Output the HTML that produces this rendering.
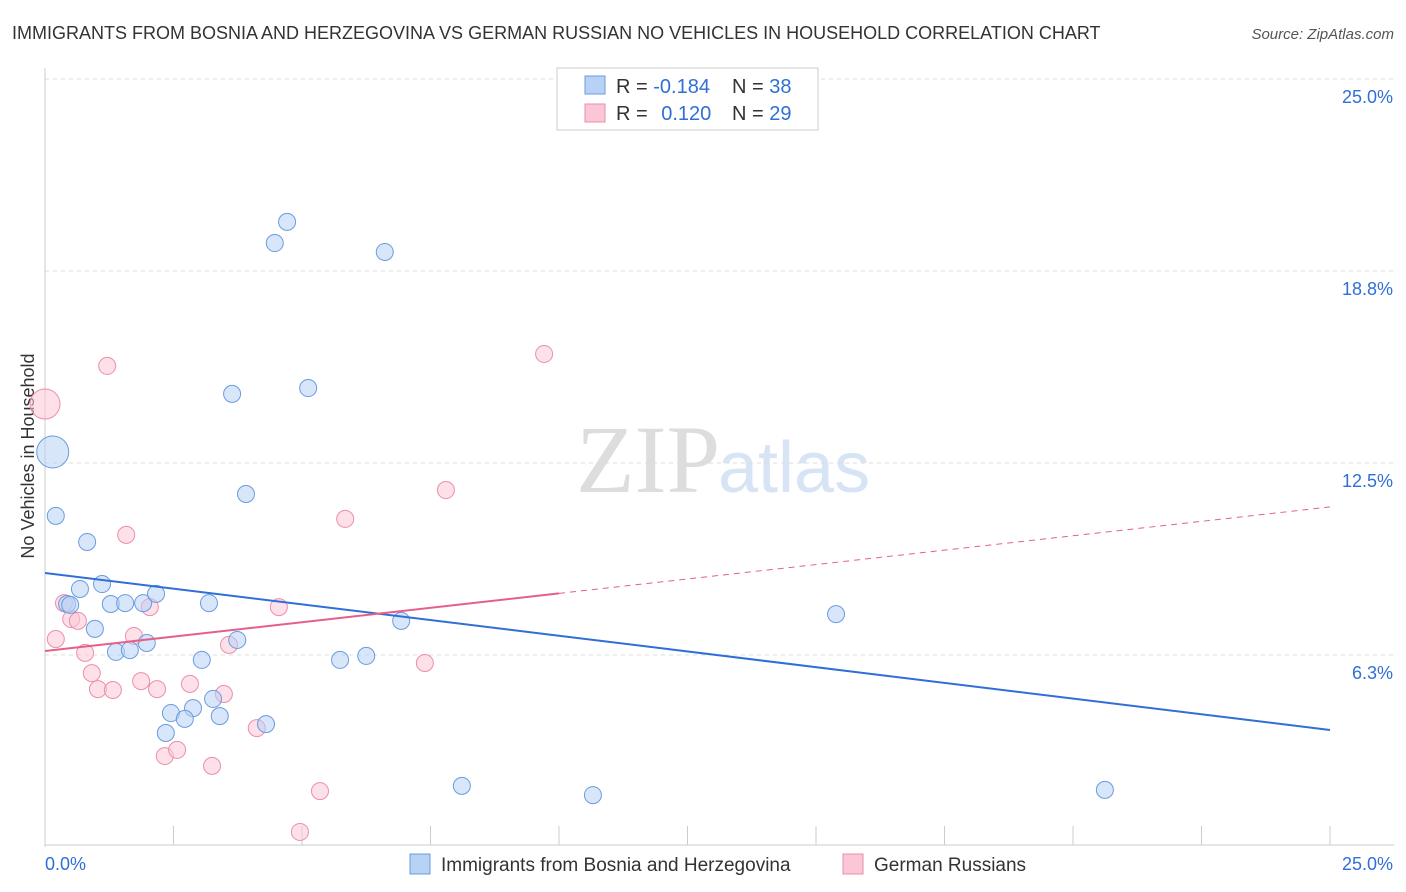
<!DOCTYPE html>
<html><head><meta charset="utf-8"><style>
body{margin:0;background:#fff;font-family:"Liberation Sans",sans-serif;}
#wrap{position:relative;width:1406px;height:892px;overflow:hidden}
svg text{font-family:"Liberation Sans",sans-serif}
</style></head><body>
<div id="wrap">
<svg id="c" width="1406" height="892">
<text x="12" y="39" font-size="18" fill="#333">IMMIGRANTS FROM BOSNIA AND HERZEGOVINA VS GERMAN RUSSIAN NO VEHICLES IN HOUSEHOLD CORRELATION CHART</text>
<text x="1394" y="39" font-size="15" fill="#555" font-style="italic" text-anchor="end">Source: ZipAtlas.com</text>
<text x="0" y="0" transform="translate(34,456) rotate(-90)" font-size="18" fill="#333" text-anchor="middle">No Vehicles in Household</text>
<text x="720" y="492" font-size="96" fill="#ddd" text-anchor="end" font-family="Liberation Serif" style="font-family:'Liberation Serif',serif">ZIP</text>
<text x="718" y="492" font-size="72" fill="#d6e4f5">atlas</text>
<g id="grid"></g><g id="pts"></g><g id="lines"></g>
<g>
<rect x="557" y="68" width="261" height="62" fill="#fff" stroke="#ccc"/>
<rect x="585" y="76" width="20" height="18" fill="#b8d2f5" stroke="#6a9be0"/>
<rect x="585" y="104" width="20" height="18" fill="#fbc6d6" stroke="#eb8fab"/>
<text x="616" y="93" font-size="20" fill="#333">R = <tspan fill="#2f6fd6">-0.184</tspan></text>
<text x="732" y="93" font-size="20" fill="#333">N = <tspan fill="#2f6fd6">38</tspan></text>
<text x="616" y="120" font-size="20" fill="#333">R = <tspan fill="#2f6fd6" dx="8">0.120</tspan></text>
<text x="732" y="120" font-size="20" fill="#333">N = <tspan fill="#2f6fd6">29</tspan></text>
</g>
<g>
<rect x="410" y="854" width="20" height="20" fill="#b8d2f5" stroke="#6a9be0"/>
<text x="441" y="871" font-size="19" fill="#333">Immigrants from Bosnia and Herzegovina</text>
<rect x="843" y="854" width="20" height="20" fill="#fbc6d6" stroke="#eb8fab"/>
<text x="874" y="871" font-size="19" fill="#333">German Russians</text>
</g>
</svg></div>
<script>
const yTicks=[6.25,12.5,18.75,25];
const yTickLabels=["6.3%","12.5%","18.8%","25.0%"];
const xTickLabels=["0.0%","25.0%"];
const blueX=[0.15,0.21,0.82,1.11,0.68,0.43,0.49,1.28,1.56,1.91,2.16,0.97,1.38,1.65,1.98,3.19,3.74,3.05,3.27,2.88,2.45,2.72,3.40,2.35,4.30,3.64,3.91,4.47,4.71,5.12,6.61,6.93,5.74,6.25,8.11,10.66,15.39,20.62];
const blueY=[12.86,10.78,9.93,8.56,8.40,7.91,7.88,7.91,7.94,7.94,8.24,7.10,6.35,6.41,6.64,7.94,6.74,6.09,4.82,4.52,4.36,4.17,4.26,3.71,4.00,14.75,11.49,19.66,20.35,14.94,19.37,7.36,6.09,6.22,1.99,1.69,7.58,1.86];
const pinkX=[0,0.21,0.37,0.51,0.64,0.78,0.91,1.03,1.32,1.21,1.58,1.73,1.87,2.04,2.18,2.33,2.57,2.82,3.25,3.48,3.58,4.12,4.55,5.35,4.96,5.84,7.39,7.80,9.71];
const pinkY=[14.42,6.77,7.94,7.42,7.36,6.32,5.66,5.14,5.11,15.66,10.16,6.87,5.40,7.81,5.14,2.96,3.16,5.31,2.64,4.98,6.58,3.87,7.81,1.82,0.49,10.68,5.99,11.62,16.05];
const blueTrend=[8.92,3.81];
const pinkTrend=[6.38,11.07];
const pinkSolidEnd=10;
const X0=45,X1=1330,Y0=847,YT=79;
const sx=v=>X0+(X1-X0)*v/25, sy=v=>Y0-(Y0-YT)*v/25;
const NS="http://www.w3.org/2000/svg";
function mk(t,a,p){const e=document.createElementNS(NS,t);for(const k in a)e.setAttribute(k,a[k]);p.appendChild(e);return e;}
const g=document.getElementById('grid'),svg=document.getElementById('c');
yTicks.forEach((t,i)=>{
 const l=mk('line',{x1:X0,x2:1394,y1:sy(t),y2:sy(t),stroke:'#ddd','stroke-dasharray':'4,4'},g);
 
 
 const tx=mk('text',{x:1393,y:sy(t)+24,'font-size':18,fill:'#2f6fd6','text-anchor':'end'},g);
 tx.textContent=yTickLabels[i];
 
 
});
const ax=mk('line',{x1:X0,x2:X0,y1:68,y2:Y0,stroke:'#ccc'},g);


const bx=mk('line',{x1:X0,x2:1394,y1:845,y2:845,stroke:'#ccc'},g);


for(let i=0;i<=10;i++){const v=i*2.5;const t=mk('line',{x1:sx(v),x2:sx(v),y1:826,y2:845,stroke:'#ccc'},g);
 
 }
[[0,45,'start'],[25,1393,'end']].forEach((d,i)=>{const t=mk('text',{x:d[1],y:870,'font-size':18,fill:'#2f6fd6','text-anchor':d[2]},g);t.textContent=xTickLabels[i];
 
 });
const pg=document.getElementById('pts');
function pts(X,Y,fill,stroke,name){X.forEach((x,i)=>{const r=i==0?(name=='bosnia-point'?16:15):8.5;
 const c=mk('circle',{cx:sx(x),cy:sy(Y[i]),r:r,fill:fill,stroke:stroke,'stroke-width':1,'fill-opacity':0.55},pg);
 
 });}
pts(pinkX,pinkY,'#fbc6d6','#eb8fab','german-russian-point');
pts(blueX,blueY,'#b8d2f5','#6a9be0','bosnia-point');
const lg=document.getElementById('lines');
const bl=mk('line',{x1:sx(0),y1:sy(blueTrend[0]),x2:sx(25),y2:sy(blueTrend[1]),stroke:'#2f6fd6','stroke-width':2},lg);


const pm=pinkTrend[0]+(pinkTrend[1]-pinkTrend[0])*pinkSolidEnd/25;
const pl=mk('line',{x1:sx(0),y1:sy(pinkTrend[0]),x2:sx(pinkSolidEnd),y2:sy(pm),stroke:'#e4608a','stroke-width':2},lg);


const pd=mk('line',{x1:sx(pinkSolidEnd),y1:sy(pm),x2:sx(25),y2:sy(pinkTrend[1]),stroke:'#e4608a','stroke-width':1,'stroke-dasharray':'6,5'},lg);


</script>
</body></html>
